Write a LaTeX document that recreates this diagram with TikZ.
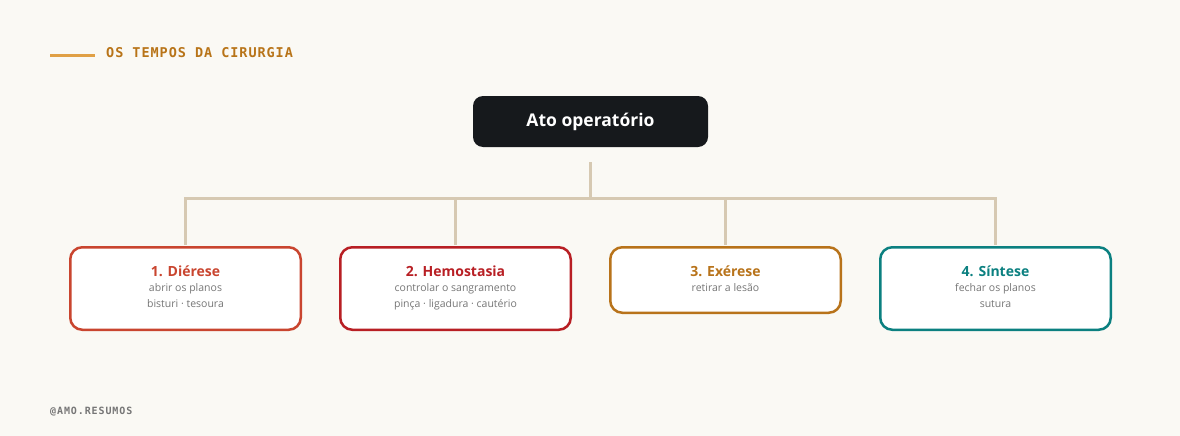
\documentclass[tikz,border=0pt]{standalone}
\usepackage{fontspec}
\setmainfont{Open Sans}
\setmonofont{DejaVu Sans Mono}
\newfontfamily\headfont[LetterSpace=7]{DejaVu Sans Mono}
\newfontfamily\footfont[LetterSpace=9]{DejaVu Sans Mono}

\definecolor{bg}{HTML}{FAF9F4}
\definecolor{linkc}{HTML}{D6C9B2}
\definecolor{rootc}{HTML}{16191C}
\definecolor{subc}{HTML}{767676}
\definecolor{headl}{HTML}{E0A045}
\definecolor{headc}{HTML}{B87418}
\definecolor{c1}{HTML}{C9452F}
\definecolor{c2}{HTML}{B81F24}
\definecolor{c3}{HTML}{B8731A}
\definecolor{c4}{HTML}{0B8080}

\begin{document}
\begin{tikzpicture}[x=1pt, y=-1pt,
        link/.style = {draw=linkc, line width=3pt},
        root/.style = {fill=rootc, text=white, rounded corners=10pt, minimum width=235pt, minimum height=51pt, font=\fontsize{17.5}{20}\selectfont\bfseries},
        stage/.style = {draw, line width=2.5pt, fill=white, rounded corners=12pt, minimum width=230.5pt},
        title/.style = {anchor=base, inner sep=0pt, font=\fontsize{14}{16}\selectfont\bfseries},
        sub/.style = {anchor=base, inner sep=0pt, text=subc, font=\fontsize{10.5}{13}\selectfont}]

    \fill[bg] (0,0) rectangle (1180,436);

    % header and footer
    \draw[headl, line width=3pt] (50,56) -- (95,56);
    \node[anchor=west, inner sep=0pt, text=headc, font=\headfont\fontsize{13.5}{16}\bfseries\selectfont] (head) at (106,53) {OS TEMPOS DA CIRURGIA};
    \node[anchor=west, inner sep=0pt, text=subc, font=\footfont\fontsize{10}{12}\bfseries\selectfont] (foot) at (50,412) {@AMO.RESUMOS};

    \node[root] (0) at (590.5,121.5) {Ato operatório};

    \node[stage, draw=c1, minimum height=82.5pt] (1) at (185.5,288.5) {};
    \node[stage, draw=c2, minimum height=82.5pt] (2) at (455.5,288.5) {};
    \node[stage, draw=c3, minimum height=65.5pt] (3) at (725.5,280) {};
    \node[stage, draw=c4, minimum height=82.5pt] (4) at (995.5,288.5) {};

    \node[title, text=c1] (1t) at (185.5,276) {1. Diérese};
    \node[sub] (1a) at (185.5,291.5) {abrir os planos};
    \node[sub] (1b) at (185.5,307.5) {bisturi · tesoura};

    \node[title, text=c2] (2t) at (455.5,276) {2. Hemostasia};
    \node[sub] (2a) at (455.5,291.5) {controlar o sangramento};
    \node[sub] (2b) at (455.5,307.5) {pinça · ligadura · cautério};

    \node[title, text=c3] (3t) at (725.5,276) {3. Exérese};
    \node[sub] (3a) at (725.5,291.5) {retirar a lesão};

    \node[title, text=c4] (4t) at (995.5,276) {4. Síntese};
    \node[sub] (4a) at (995.5,291.5) {fechar os planos};
    \node[sub] (4b) at (995.5,307.5) {sutura};

    % tree
    \coordinate (fork) at (590.5,198);
    \coordinate (j1) at (185.5,198);
    \coordinate (j2) at (455.5,198);
    \coordinate (j3) at (725.5,198);
    \coordinate (j4) at (995.5,198);

    \draw[link] ([yshift=-15pt]0.south) -- (fork);
    \draw[link, line cap=rect] (j1) -- (j4);
    \draw[link, shorten >=1.5pt] (j1) -- (1);
    \draw[link, shorten >=1.5pt] (j2) -- (2);
    \draw[link, shorten >=1.5pt] (j3) -- (3);
    \draw[link, shorten >=1.5pt] (j4) -- (4);

\end{tikzpicture}
\end{document}
